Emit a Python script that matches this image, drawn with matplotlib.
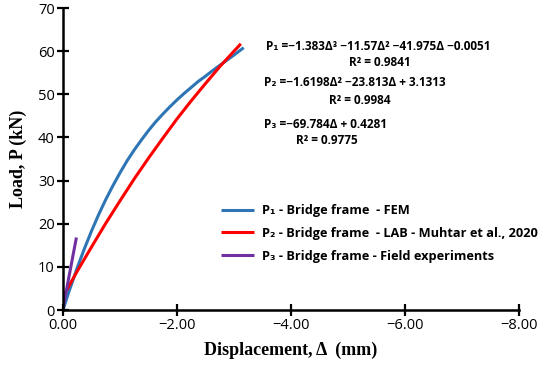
import numpy as np
import matplotlib.pyplot as plt

# === DATA ===
disp_fem = [0.0, -0.1, -0.25, -0.375, -0.5, -0.625, -0.75, -0.875, -1.0, -1.125, -1.25, -1.375,
            -1.5, -1.625, -1.75, -1.875, -2.0, -2.125, -2.25, -2.375, -2.5, -2.625, -2.75,
            -2.875, -3.0, -3.1, -3.17]
load_fem = [0.0, 4.1, 9.8, 14.2, 18.3, 22.1, 25.6, 28.8, 31.8, 34.6, 37.1, 39.4,
            41.6, 43.6, 45.4, 47.1, 48.7, 50.2, 51.6, 53.0, 54.2, 55.5, 56.7,
            57.9, 59.1, 60.1, 60.8]

disp_lab = [0.0, -0.25, -0.5, -0.75, -1.0, -1.25, -1.5, -1.75, -2.0, -2.25, -2.5, -2.75, -3.0, -3.12]
load_lab = [3.1, 9.0, 14.6, 20.1, 25.3, 30.4, 35.2, 39.8, 44.3, 48.5, 52.5, 56.4, 60.0, 61.7]

disp_field = [0.0, -0.235]
load_field = [0.4, 16.8]

x_ticks = [0, -2, -4, -6, -8]
x_ticklabels = ["0.00", "\u22122.00", "\u22124.00", "\u22126.00", "\u22128.00"]
y_ticks = [0, 10, 20, 30, 40, 50, 60, 70]

labels = ["P\u2081 - Bridge frame  - FEM",
          "P\u2082 - Bridge frame  - LAB - Muhtar et al., 2020",
          "P\u2083 - Bridge frame - Field experiments"]
colors = ["#2E75B6", "#FF0000", "#7030A0"]

eqs = [("P\u2081 =\u22121.383\u0394\u00b3 \u221211.57\u0394\u00b2 \u221241.975\u0394 \u22120.0051", "R\u00b2 = 0.9841"),
       ("P\u2082 =\u22121.6198\u0394\u00b2 \u221223.813\u0394 + 3.1313", "R\u00b2 = 0.9984"),
       ("P\u2083 =\u221269.784\u0394 + 0.4281", "R\u00b2 = 0.9775")]

SANS = ["Open Sans", "DejaVu Sans"]
plt.rcParams['font.family'] = SANS

# === PLOT ===
fig = plt.figure(figsize=(5.5, 3.68), dpi=100)
ax = fig.add_axes([63 / 550, 1 - 310 / 368, (519 - 63) / 550, (310 - 8) / 368])

ax.plot(disp_fem, load_fem, color=colors[0], lw=2.2, label=labels[0], solid_capstyle='butt')
ax.plot(disp_lab, load_lab, color=colors[1], lw=2.2, label=labels[1], solid_capstyle='butt')
ax.plot(disp_field, load_field, color=colors[2], lw=2.2, label=labels[2], solid_capstyle='butt')

ax.set_xlim(0, -8)
ax.set_ylim(0, 70)
ax.set_xticks(x_ticks)
ax.set_xticklabels(x_ticklabels)
ax.set_yticks(y_ticks)
ax.tick_params(direction='inout', length=8, width=1.6, labelsize=10.5, pad=2)

for s in ["top", "right"]:
    ax.spines[s].set_visible(False)
for s in ["left", "bottom"]:
    ax.spines[s].set_linewidth(1.8)
    ax.spines[s].set_clip_on(False)

ax.set_xlabel("Displacement, \u0394  (mm)", family="Liberation Serif",
              fontweight="bold", fontsize=13, labelpad=6)
ax.set_ylabel("Load, P (kN)", family="Liberation Serif",
              fontweight="bold", fontsize=13, labelpad=8)

# equations
eq_pos = [((266, 47), (380, 63)), ((264, 83), (360, 101)), ((264, 125), (327, 140))]
for (eq, r2), ((x1, y1), (x2, y2)) in zip(eqs, eq_pos):
    fig.text(x1 / 550, 1 - y1 / 368, eq, fontsize=8.5, fontweight="bold", va="center", ha="left")
    fig.text(x2 / 550, 1 - y2 / 368, r2, fontsize=8.5, fontweight="bold", va="center", ha="center")

leg = ax.legend(loc="upper left", bbox_to_anchor=(221 / 550, 1 - 204 / 368),
                bbox_transform=fig.transFigure, frameon=False,
                prop={"weight": "bold", "size": 9.2}, handlelength=2.6,
                handletextpad=0.6, labelspacing=0.78, borderpad=0, borderaxespad=0)

fig.savefig("out.png", dpi=100)
